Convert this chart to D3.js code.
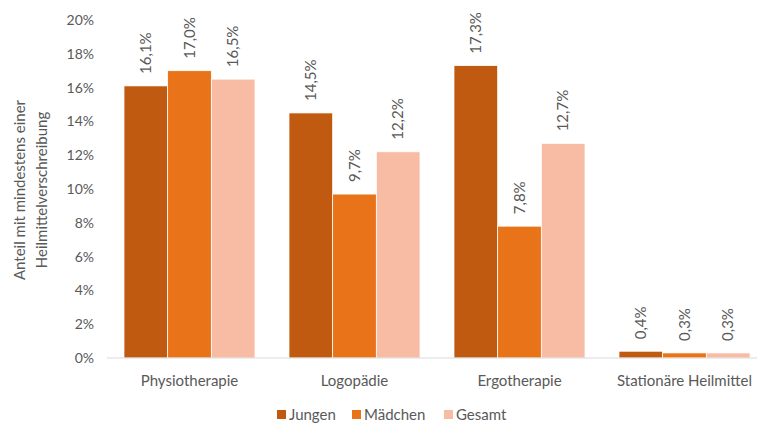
<!DOCTYPE html>
<html>
<head>
<meta charset="utf-8">
<script src="https://cdn.jsdelivr.net/npm/d3@7"></script>
<style>
  html, body { margin: 0; padding: 0; background: #fff; }
  svg text { font-family: Lato, "Open Sans", sans-serif; fill: #595959; }
</style>
</head>
<body>
<svg id="chart" width="757" height="423"></svg>
<script>
// Anteil mit mindestens einer Heilmittelverschreibung (in %)
const categories = ["Physiotherapie", "Logopädie", "Ergotherapie", "Stationäre Heilmittel"];
const seriesNames = ["Jungen", "Mädchen", "Gesamt"];
const jungen  = [16.1, 14.5, 17.3, 0.4];
const maedchen = [17.0, 9.7, 7.8, 0.3];
const gesamt  = [16.5, 12.2, 12.7, 0.3];
const yTicks = [0, 2, 4, 6, 8, 10, 12, 14, 16, 18, 20];
const colors = ["#BF5A10", "#E97318", "#F8BBA3"];

const values = [jungen, maedchen, gesamt];
const svg = d3.select("#chart");

const y = d3.scaleLinear().domain([0, 20]).range([358, 20]);
const x = d3.scaleBand().domain(categories).range([107, 767])
  .paddingInner(0.206).paddingOuter(0.103);
const xs = d3.scaleBand().domain(seriesNames).range([0, x.bandwidth()]);

const fmt = v => v.toFixed(1).replace(".", ",") + "%";

// y axis tick labels
svg.append("g").selectAll("text").data(yTicks).join("text")
  .attr("x", 94).attr("y", d => y(d)).attr("dy", "0.35em")
  .attr("text-anchor", "end").attr("font-size", 14)
  .text(d => d + "%");

// y axis title
const title = svg.append("text")
  .attr("transform", "translate(0,190) rotate(-90)")
  .attr("text-anchor", "middle").attr("font-size", 15);
title.append("tspan").attr("x", 0).attr("y", 25).text("Anteil mit mindestens einer");
title.append("tspan").attr("x", 0).attr("y", 47).text("Heilmittelverschreibung");

// bars
const groups = svg.append("g").selectAll("g").data(categories).join("g")
  .attr("transform", d => `translate(${x(d)},0)`);

groups.selectAll("rect")
  .data((c, i) => seriesNames.map((s, k) => ({ s, k, v: values[k][i] })))
  .join("rect")
  .attr("x", d => xs(d.s))
  .attr("y", d => y(d.v))
  .attr("width", xs.bandwidth())
  .attr("height", d => y(0) - y(d.v))
  .attr("fill", d => colors[d.k])
  .attr("stroke", "#fff").attr("stroke-width", 0.75);

// value labels, rotated above bars
groups.selectAll("text.val")
  .data((c, i) => seriesNames.map((s, k) => ({ s, k, v: values[k][i] })))
  .join("text").attr("class", "val")
  .attr("transform", d => `translate(${xs(d.s) + xs.bandwidth() / 2 + 5},${y(d.v) - 12}) rotate(-90)`)
  .attr("text-anchor", "start").attr("font-size", 15)
  .text(d => fmt(d.v));

// x axis baseline
svg.append("line")
  .attr("x1", 107).attr("x2", 757).attr("y1", y(0)).attr("y2", y(0))
  .attr("stroke", "#D9D9D9").attr("stroke-width", 1);

// category labels
svg.append("g").selectAll("text").data(categories).join("text")
  .attr("x", d => x(d) + x.bandwidth() / 2).attr("y", 386)
  .attr("text-anchor", "middle").attr("font-size", 15)
  .text(d => d);

// legend
const legendX = [277, 352, 444];
const legend = svg.append("g").selectAll("g").data(seriesNames).join("g")
  .attr("transform", (d, i) => `translate(${legendX[i]},410)`);
legend.append("rect").attr("width", 9).attr("height", 9).attr("fill", (d, i) => colors[i]);
legend.append("text").attr("x", 12).attr("y", 4.5).attr("dy", "0.38em")
  .attr("font-size", 15).text(d => d);
</script>
</body>
</html>
